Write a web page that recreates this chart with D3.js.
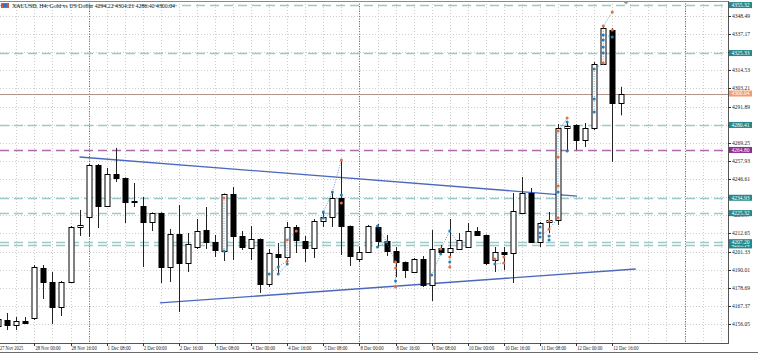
<!DOCTYPE html>
<html>
<head>
<meta charset="utf-8">
<script src="https://cdn.jsdelivr.net/npm/d3@7"></script>
<style>
  body { margin: 0; background: #fff; }
  svg { display: block; font-family: 'Liberation Serif', 'DejaVu Serif', serif; }
</style>
</head>
<body>
<div id="chart"></div>
<script>
// H4 bars, first one is index -1 (27 Nov 08:00), last one 12 Dec 20:00
const firstBar = -1

const opens = [4154.80, 4158.55, 4155.43, 4157.92, 4159.80, 4191.04, 4182.29, 4166.67, 4182.29, 4216.65,
  4222.90, 4255.39, 4229.77, 4249.77, 4247.27, 4232.60, 4229.77, 4219.78, 4225.40, 4191.66,
  4212.28, 4194.16, 4204.16, 4214.78, 4207.28, 4201.66, 4237.27, 4211.03, 4203.53, 4209.16,
  4181.04, 4199.79, 4197.91, 4216.65, 4207.91, 4203.53, 4220.40, 4222.90, 4234.77, 4217.28,
  4196.66, 4201.04, 4216.65, 4207.91, 4201.66, 4194.79, 4188.54, 4196.66, 4180.42, 4203.53,
  4201.04, 4202.91, 4204.16, 4214.16, 4211.66, 4196.04, 4201.04, 4200.41, 4225.40, 4237.90,
  4207.28, 4219.78, 4221.03, 4278.51, 4280.39, 4271.01, 4278.51, 4318.50, 4339.74, 4294.22]

const highs = [4160.42, 4162.92, 4160.42, 4160.42, 4192.91, 4192.91, 4188.54, 4182.92, 4217.28, 4227.28,
  4256.00, 4256.00, 4253.52, 4266.02, 4247.60, 4244.15, 4235.40, 4225.80, 4225.80, 4215.41,
  4230.40, 4212.91, 4221.65, 4229.15, 4211.66, 4237.60, 4241.65, 4214.16, 4217.28, 4209.50,
  4202.91, 4206.66, 4219.78, 4217.90, 4211.03, 4221.65, 4226.03, 4238.52, 4258.52, 4217.60,
  4204.16, 4217.90, 4218.53, 4211.66, 4204.16, 4195.10, 4197.29, 4198.54, 4214.78, 4205.41,
  4221.65, 4212.91, 4219.15, 4216.65, 4212.00, 4204.16, 4204.16, 4237.90, 4247.90, 4241.02,
  4219.78, 4226.03, 4281.01, 4282.26, 4280.80, 4281.63, 4319.75, 4341.62, 4340.99, 4304.21]

const lows = [4152.30, 4152.30, 4152.30, 4156.20, 4158.55, 4171.67, 4156.05, 4161.05, 4181.67, 4211.03,
  4210.41, 4216.03, 4229.20, 4244.77, 4219.15, 4229.15, 4191.66, 4214.16, 4181.67, 4182.29,
  4163.55, 4188.54, 4202.91, 4202.91, 4197.91, 4195.41, 4196.04, 4202.29, 4196.04, 4175.42,
  4179.17, 4187.29, 4192.91, 4200.41, 4194.79, 4197.29, 4216.65, 4216.65, 4199.16, 4192.29,
  4194.79, 4200.41, 4204.16, 4198.54, 4185.42, 4184.79, 4187.92, 4179.17, 4170.42, 4199.79,
  4198.54, 4202.29, 4203.53, 4211.03, 4192.91, 4188.54, 4189.79, 4181.67, 4225.00, 4207.00,
  4204.16, 4212.91, 4217.90, 4263.52, 4264.77, 4266.64, 4277.26, 4318.00, 4257.27, 4286.40]

const closes = [4159.17, 4155.43, 4157.92, 4156.67, 4191.66, 4182.29, 4166.67, 4182.29, 4216.65, 4217.90,
  4255.39, 4229.77, 4249.77, 4247.27, 4232.27, 4232.27, 4219.78, 4225.40, 4191.66, 4212.28,
  4194.16, 4206.03, 4214.16, 4207.28, 4202.29, 4237.27, 4211.03, 4204.16, 4209.16, 4181.04,
  4200.41, 4197.91, 4216.65, 4208.53, 4203.53, 4220.40, 4222.90, 4234.77, 4217.28, 4198.54,
  4201.04, 4217.28, 4207.91, 4201.66, 4194.79, 4189.79, 4196.66, 4180.42, 4202.91, 4201.04,
  4203.53, 4208.53, 4214.16, 4211.66, 4194.16, 4201.04, 4199.79, 4226.65, 4237.90, 4207.28,
  4219.15, 4221.03, 4278.51, 4279.76, 4271.01, 4278.51, 4318.50, 4340.99, 4294.13, 4300.04]

// time axis: bar index and label
const timeIndex = [-1, 3, 7, 11, 15, 19, 23, 27, 31, 35, 39, 43, 47, 51, 55, 59, 63, 67]
const timeLabels = ['27 Nov 2025', '28 Nov 00:00', '28 Nov 16:00', '1 Dec 08:00', '2 Dec 00:00',
  '2 Dec 16:00', '3 Dec 08:00', '4 Dec 00:00', '4 Dec 16:00', '5 Dec 08:00', '8 Dec 00:00',
  '8 Dec 16:00', '9 Dec 08:00', '10 Dec 00:00', '10 Dec 16:00', '11 Dec 08:00', '12 Dec 00:00',
  '12 Dec 16:00']

const priceTicks = [4156.05, 4167.37, 4178.69, 4190.01, 4201.33, 4212.65, 4223.97, 4235.29,
  4246.61, 4257.93, 4269.25, 4280.57, 4291.89, 4303.21, 4314.53, 4325.85, 4337.17, 4348.49]

// horizontal levels (lower one of a close pair is listed first so the upper box sits on top)
const levelPrices = [4355.32, 4325.33, 4300.04, 4280.41, 4264.80, 4234.93, 4225.32, 4205.14, 4207.20]
const levelKinds = ['teal', 'teal', 'bid', 'teal', 'purple', 'teal', 'teal', 'teal', 'teal']

// week separators (bar index)
const separators = [9, 39, 75]

// trendlines: [bar, price, bar, price]
const trendlines = [
  [8, 4260.4, 63.1, 4236.0],
  [16.9, 4169.2, 69.6, 4190.4]
]

// indicator dots: [bar, price, 'o' orange | 'b' blue]
const markers = [
  [24, 4234.77, 'o'], [24, 4201.66, 'b'],
  [29, 4187.29, 'b'], [30, 4191.66, 'b'], [30, 4187.29, 'b'],
  [31, 4193.54, 'b'], [31, 4195.41, 'o'], [31, 4208.53, 'o'], [32, 4214.16, 'o'],
  [35, 4222.28, 'b'], [35, 4226.03, 'b'], [36, 4238.52, 'b'],
  [37, 4258.52, 'o'], [37, 4236.65, 'b'], [37, 4231.65, 'o'],
  [41, 4217.28, 'b'], [41, 4204.16, 'b'], [42, 4207.28, 'b'],
  [43, 4194.79, 'o'], [43, 4191.04, 'o'], [43, 4182.92, 'b'], [43, 4179.17, 'o'],
  [47, 4186.67, 'b'], [48, 4202.91, 'o'], [48, 4199.79, 'b'],
  [49, 4214.16, 'b'], [49, 4197.91, 'o'], [49, 4194.79, 'b'], [49, 4191.66, 'o'],
  [54, 4196.66, 'o'], [54, 4193.54, 'b'], [55, 4197.91, 'o'], [55, 4194.16, 'o'],
  [59, 4216.65, 'b'], [59, 4212.91, 'b'], [59, 4210.41, 'b'],
  [60, 4220.40, 'o'], [60, 4215.41, 'o'], [60, 4211.03, 'b'], [60, 4208.53, 'b'],
  [61, 4276.64, 'o'], [61, 4260.39, 'o'], [61, 4242.27, 'o'], [61, 4238.52, 'b'], [61, 4222.28, 'o'],
  [62, 4284.76, 'o'], [62, 4282.26, 'b'], [62, 4264.14, 'b'],
  [65, 4315.37, 'b'], [65, 4296.63, 'b'], [65, 4288.51, 'b'],
  [66, 4342.24, 'o'], [66, 4336.62, 'b'], [66, 4333.49, 'b'], [66, 4329.12, 'b'],
  [66, 4325.37, 'b'], [66, 4319.12, 'o'],
  [67, 4350.99, 'o'], [67, 4339.74, 'o'], [67, 4335.37, 'b']
]

// dotted connector paths of the indicator
const connectors = [
  [[24, 4234.77], [24, 4201.66]],
  [[29, 4187.29], [30, 4191.66], [31, 4195.41], [31, 4208.53], [32, 4214.16]],
  [[30, 4187.29], [31, 4193.54]],
  [[35, 4222.28], [35, 4226.03], [36, 4238.52], [37, 4258.52]],
  [[41, 4204.16], [42, 4207.28], [43, 4194.79], [43, 4179.17]],
  [[41, 4217.28], [42, 4207.28]],
  [[47, 4186.67], [48, 4199.79]],
  [[48, 4202.91], [49, 4214.16], [50, 4206.0]],
  [[49, 4197.91], [49, 4191.66]],
  [[54, 4193.54], [55, 4194.16]],
  [[59, 4210.41], [60, 4215.41], [61, 4222.28], [61, 4276.64], [62, 4284.76]],
  [[65, 4288.51], [65, 4315.37], [66, 4319.12], [66, 4342.24], [67, 4350.99]],
  [[66, 4336.62], [67, 4335.37]]
]

const headerText = 'XAUUSD, H4:  Gold vs US Dollar  4294.22 4304.21 4286.40 4300.04'

const width = 758
const height = 354
const plotRight = 728
const plotTop = 1
const plotBottom = 343

const svg = d3
  .select('#chart')
  .append('svg')
  .attr('width', width)
  .attr('height', height)

const xPositionScale = d3.scaleLinear().domain([0, 68]).range([7.3, 621.3])
const yPositionScale = d3.scaleLinear().domain([4156.05, 4348.49]).range([324, 16])

svg
  .append('defs')
  .append('clipPath')
  .attr('id', 'plot-clip')
  .append('rect')
  .attr('x', 0)
  .attr('y', plotTop)
  .attr('width', plotRight)
  .attr('height', plotBottom - plotTop)

const plot = svg.append('g').attr('clip-path', 'url(#plot-clip)')

// grid
const gridBars = d3.range(-1, 81, 2)
plot
  .selectAll('.v-grid')
  .data(gridBars)
  .enter()
  .append('line')
  .attr('class', 'v-grid')
  .attr('x1', d => Math.round(xPositionScale(d)) + 0.5)
  .attr('x2', d => Math.round(xPositionScale(d)) + 0.5)
  .attr('y1', plotTop)
  .attr('y2', plotBottom)
  .attr('stroke', '#cdcdcd')
  .attr('stroke-dasharray', '1,2')

plot
  .selectAll('.h-grid')
  .data(priceTicks)
  .enter()
  .append('line')
  .attr('class', 'h-grid')
  .attr('x1', 0)
  .attr('x2', plotRight)
  .attr('y1', d => Math.round(yPositionScale(d)) + 0.5)
  .attr('y2', d => Math.round(yPositionScale(d)) + 0.5)
  .attr('stroke', '#cdcdcd')
  .attr('stroke-dasharray', '1,2')

plot
  .selectAll('.sep')
  .data(separators)
  .enter()
  .append('line')
  .attr('class', 'sep')
  .attr('x1', d => Math.round(xPositionScale(d)) + 0.5)
  .attr('x2', d => Math.round(xPositionScale(d)) + 0.5)
  .attr('y1', plotTop)
  .attr('y2', plotBottom)
  .attr('stroke', '#6d6d6d')
  .attr('stroke-dasharray', '1,1.5')

// level lines
const levelColor = { teal: '#9ccaca', bid: '#b0948a', purple: '#ad6aad' }
const levelBox = { teal: '#23898a', bid: '#f09c74', purple: '#8c2c8c' }
const levels = levelPrices.map((p, k) => ({ price: p, kind: levelKinds[k] }))

plot
  .selectAll('.level')
  .data(levels)
  .enter()
  .append('line')
  .attr('class', 'level')
  .attr('x1', 0)
  .attr('x2', plotRight)
  .attr('y1', d => Math.round(yPositionScale(d.price)) + 0.5)
  .attr('y2', d => Math.round(yPositionScale(d.price)) + 0.5)
  .attr('stroke', d => levelColor[d.kind])
  .attr('stroke-width', d => (d.kind === 'bid' ? 1 : 1.6))
  .attr('stroke-dasharray', d => (d.kind === 'bid' ? null : '9,5'))

// trendlines
plot
  .selectAll('.trend')
  .data(trendlines)
  .enter()
  .append('line')
  .attr('class', 'trend')
  .attr('x1', d => xPositionScale(d[0]))
  .attr('y1', d => yPositionScale(d[1]))
  .attr('x2', d => xPositionScale(d[2]))
  .attr('y2', d => yPositionScale(d[3]))
  .attr('stroke', '#4a68bd')
  .attr('stroke-width', 1.3)

// candles
const bars = opens.map((o, k) => ({
  i: firstBar + k,
  open: o,
  high: highs[k],
  low: lows[k],
  close: closes[k]
}))

const cx = d => Math.round(xPositionScale(d.i)) + 0.5

plot
  .selectAll('.wick')
  .data(bars)
  .enter()
  .append('line')
  .attr('class', 'wick')
  .attr('x1', cx)
  .attr('x2', cx)
  .attr('y1', d => yPositionScale(d.high))
  .attr('y2', d => yPositionScale(d.low))
  .attr('stroke', '#222')
  .attr('stroke-width', 1)

plot
  .selectAll('.body')
  .data(bars)
  .enter()
  .append('rect')
  .attr('class', 'body')
  .attr('x', d => cx(d) - 2.5)
  .attr('width', 5)
  .attr('y', d => Math.round(yPositionScale(Math.max(d.open, d.close))) + 0.5)
  .attr('height', d =>
    Math.max(1, Math.round(Math.abs(yPositionScale(d.open) - yPositionScale(d.close))))
  )
  .attr('fill', d => (d.close >= d.open ? '#fff' : '#000'))
  .attr('stroke', '#000')
  .attr('stroke-width', 1)

// indicator
const line = d3
  .line()
  .x(d => xPositionScale(d[0]))
  .y(d => yPositionScale(d[1]))

plot
  .selectAll('.conn')
  .data(connectors)
  .enter()
  .append('path')
  .attr('class', 'conn')
  .attr('d', line)
  .attr('fill', 'none')
  .attr('stroke', '#3d86b8')
  .attr('stroke-width', 0.8)
  .attr('stroke-dasharray', '1,1.5')

plot
  .selectAll('.mark')
  .data(markers)
  .enter()
  .append('circle')
  .attr('class', 'mark')
  .attr('cx', d => xPositionScale(d[0]))
  .attr('cy', d => yPositionScale(d[1]))
  .attr('r', 1.5)
  .attr('fill', d => (d[2] === 'o' ? '#e2703f' : '#2a7fb8'))

// frame
svg
  .append('line')
  .attr('x1', 0)
  .attr('x2', plotRight)
  .attr('y1', plotTop + 0.5)
  .attr('y2', plotTop + 0.5)
  .attr('stroke', '#8a8a8a')
svg
  .append('line')
  .attr('x1', plotRight + 0.5)
  .attr('x2', plotRight + 0.5)
  .attr('y1', plotTop)
  .attr('y2', plotBottom)
  .attr('stroke', '#555')
svg
  .append('line')
  .attr('x1', 0)
  .attr('x2', plotRight + 1)
  .attr('y1', plotBottom + 0.5)
  .attr('y2', plotBottom + 0.5)
  .attr('stroke', '#555')
svg
  .append('line')
  .attr('x1', 0)
  .attr('x2', width)
  .attr('y1', height - 1.5)
  .attr('y2', height - 1.5)
  .attr('stroke', '#6a6a6a')

// shift marker
svg
  .append('path')
  .attr('d', 'M623,1.5 L629,1.5 L626,4.5 Z')
  .attr('fill', '#9a9a9a')

// price axis; a tick label sitting right under a level box is covered by it, so skip it
const visibleTicks = priceTicks.filter(
  p => !levelPrices.some(l => Math.abs(yPositionScale(l) - yPositionScale(p)) < 1.5)
)

svg
  .selectAll('.p-tick')
  .data(priceTicks)
  .enter()
  .append('line')
  .attr('class', 'p-tick')
  .attr('x1', plotRight)
  .attr('x2', plotRight + 3)
  .attr('y1', d => Math.round(yPositionScale(d)) + 0.5)
  .attr('y2', d => Math.round(yPositionScale(d)) + 0.5)
  .attr('stroke', '#333')

svg
  .selectAll('.p-label')
  .data(visibleTicks)
  .enter()
  .append('text')
  .attr('class', 'p-label')
  .attr('x', plotRight + 4)
  .attr('y', d => yPositionScale(d) + 2)
  .attr('font-size', 5.8)
  .attr('textLength', 18)
  .attr('lengthAdjust', 'spacingAndGlyphs')
  .attr('fill', '#222')
  .text(d => d.toFixed(2))

// level labels on the price axis
const levelLabels = svg
  .selectAll('.lv-label')
  .data(levels)
  .enter()
  .append('g')
  .attr('class', 'lv-label')
  .attr('transform', d => 'translate(' + (plotRight + 1) + ',' + yPositionScale(d.price) + ')')

levelLabels
  .append('rect')
  .attr('x', 0)
  .attr('y', -3)
  .attr('width', 23)
  .attr('height', 6)
  .attr('fill', d => levelBox[d.kind])

levelLabels
  .append('text')
  .attr('x', 2.5)
  .attr('y', 1.8)
  .attr('font-size', 5.4)
  .attr('textLength', 18)
  .attr('lengthAdjust', 'spacingAndGlyphs')
  .attr('fill', '#fff')
  .text(d => d.price.toFixed(2))

// time axis
const timeTicks = timeIndex.map((i, k) => ({ i: i, label: timeLabels[k] }))

svg
  .selectAll('.t-tick')
  .data(timeTicks)
  .enter()
  .append('line')
  .attr('class', 't-tick')
  .attr('x1', d => Math.round(xPositionScale(d.i)) + 0.5)
  .attr('x2', d => Math.round(xPositionScale(d.i)) + 0.5)
  .attr('y1', plotBottom)
  .attr('y2', plotBottom + 3)
  .attr('stroke', '#333')

svg
  .selectAll('.t-label')
  .data(timeTicks)
  .enter()
  .append('text')
  .attr('class', 't-label')
  .attr('x', d => Math.max(0, xPositionScale(d.i) + 1))
  .attr('y', plotBottom + 7)
  .attr('font-size', 5.8)
  .attr('textLength', d => d.label.length * 2.1)
  .attr('lengthAdjust', 'spacingAndGlyphs')
  .attr('fill', '#222')
  .text(d => d.label)

// header
svg.append('rect').attr('x', 1).attr('y', 3).attr('width', 8).attr('height', 5).attr('fill', '#d9534f')
svg.append('rect').attr('x', 3).attr('y', 4).attr('width', 4).attr('height', 3).attr('fill', '#3b6fb6')

svg
  .append('text')
  .attr('x', 12)
  .attr('y', 7.5)
  .attr('font-size', 5.8)
  .attr('textLength', 163)
  .attr('lengthAdjust', 'spacingAndGlyphs')
  .attr('fill', '#222')
  .text(headerText)
</script>
</body>
</html>
